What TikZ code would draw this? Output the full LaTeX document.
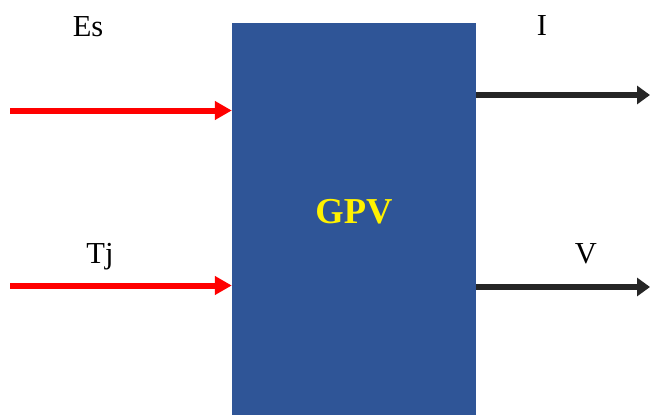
\documentclass[tikz,border=0pt]{standalone}
\usepackage{fontspec}
\setmainfont{Liberation Serif}
\usepackage{xcolor}
\usetikzlibrary{
    arrows.meta,
    calc,
    positioning
}
\definecolor{gpvblue}{HTML}{2F5597}
\definecolor{outgray}{HTML}{262626}
\tikzset{
    inarrow/.style={draw=red, line width=6pt, -{Triangle[length=17pt,width=18pt]}},
    outarrow/.style={draw=outgray, line width=5.5pt, -{Triangle[length=13pt,width=18pt]}},
    sig/.style={anchor=base, inner sep=0pt, font=\fontsize{30.5}{33}\selectfont}
}

\begin{document}
\begin{tikzpicture}[x=1pt, y=-1pt]
                        \useasboundingbox (0, 0) rectangle (650, 415);
                        \node[fill=gpvblue, inner sep=0pt, minimum width=244pt, minimum height=392pt] (gpv) at (354, 219) {};
                        \node[anchor=base, inner sep=0pt, text=yellow, font=\fontsize{36.5}{40}\selectfont\bfseries] (gpvname) at (354, 223) {GPV};
                        \coordinate (esin) at (10, 110.5);
                        \coordinate (tjin) at (10, 285.5);
                        \coordinate (iout) at (650, 95);
                        \coordinate (vout) at (650, 287);
                        \draw
                        (esin) edge[inarrow] (esin -| gpv.west)
                        (tjin) edge[inarrow] (tjin -| gpv.west)
                        (iout -| gpv.east) edge[outarrow] (iout)
                        (vout -| gpv.east) edge[outarrow] (vout);
                        \node[sig] (es) at (88, 36) {Es};
                        \node[sig] (tj) at (100, 263) {Tj};
                        \node[sig] (i) at (542, 35) {I};
                        \node[sig] (v) at (586, 263) {V};
                    \end{tikzpicture}
\end{document}
